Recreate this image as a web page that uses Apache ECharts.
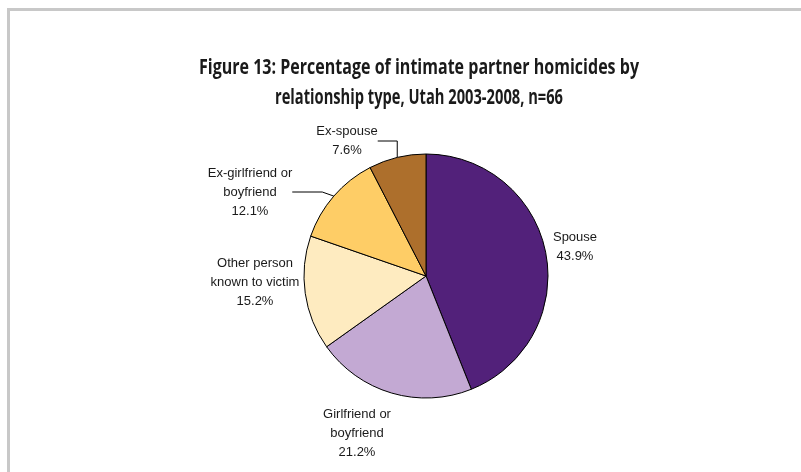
<!DOCTYPE html>
<html><head><meta charset="utf-8">
<script src="https://cdn.jsdelivr.net/npm/echarts@6/dist/echarts.min.js"></script>
<style>html,body{margin:0;padding:0;background:#fff}#c{width:801px;height:472px}</style>
</head><body><div id="c"></div>
<script>
const categories = ['Spouse', 'Girlfriend or\nboyfriend', 'Other person\nknown to victim', 'Ex-girlfriend or\nboyfriend', 'Ex-spouse'];
const counts = [29, 14, 10, 8, 5];
const sliceColors = ['#52217a', '#c3a9d3', '#feebc0', '#fecd66', '#ad6f2c'];
const showLeader = [false, false, false, true, true];
const titleLines = ['Figure 13: Percentage of intimate partner homicides by', 'relationship type, Utah 2003-2008, n=66'];
// title line layout: centre x, centre y, target width (condensed face)
const titleLayout = [[419, 68, 440], [419, 98, 288]];
// label anchor positions (centre of text block)
const labelPos = [[575, 247], [357, 433], [255, 282], [250, 192], [347, 141]];

const titleFont = 'bold 22px "Open Sans"';
const ctx = document.createElement('canvas').getContext('2d');
ctx.font = titleFont;

const titleGraphics = titleLines.map((t, i) => {
  const L = titleLayout[i];
  const w = ctx.measureText(t).width;
  return {
    type: 'text', x: L[0], y: L[1], scaleX: L[2] / w, silent: true,
    style: {text: t, font: titleFont, fill: '#1a1a1a', textAlign: 'center', textVerticalAlign: 'middle'}
  };
});

const chart = echarts.init(document.getElementById('c'), null, {renderer: 'canvas'});
chart.setOption({
  animation: false,
  backgroundColor: '#fff',
  graphic: [{
    type: 'rect', shape: {x: 8.5, y: 9.5, width: 900, height: 600},
    style: {fill: 'none', stroke: '#c8c8c8', lineWidth: 3}, silent: true, z: -1
  }].concat(titleGraphics),
  series: [{
    type: 'pie',
    center: [426, 276], radius: 122,
    startAngle: 90, clockwise: true,
    percentPrecision: 1,
    emphasis: {disabled: true},
    itemStyle: {borderColor: '#000', borderWidth: 1},
    label: {
      show: true, position: 'outside', formatter: '{b}\n{d}%',
      fontFamily: 'Liberation Sans', fontSize: 13, lineHeight: 19, color: '#1a1a1a', align: 'center'
    },
    labelLine: {show: false, lineStyle: {color: '#000', width: 1}, smooth: false},
    labelLayout: function (p) {
      const pos = labelPos[p.dataIndex];
      return {x: pos[0], y: pos[1], align: 'center', verticalAlign: 'middle'};
    },
    data: categories.map((c, i) => ({
      name: c, value: counts[i],
      itemStyle: {color: sliceColors[i]},
      labelLine: {show: showLeader[i]}
    }))
  }]
});
</script></body></html>
